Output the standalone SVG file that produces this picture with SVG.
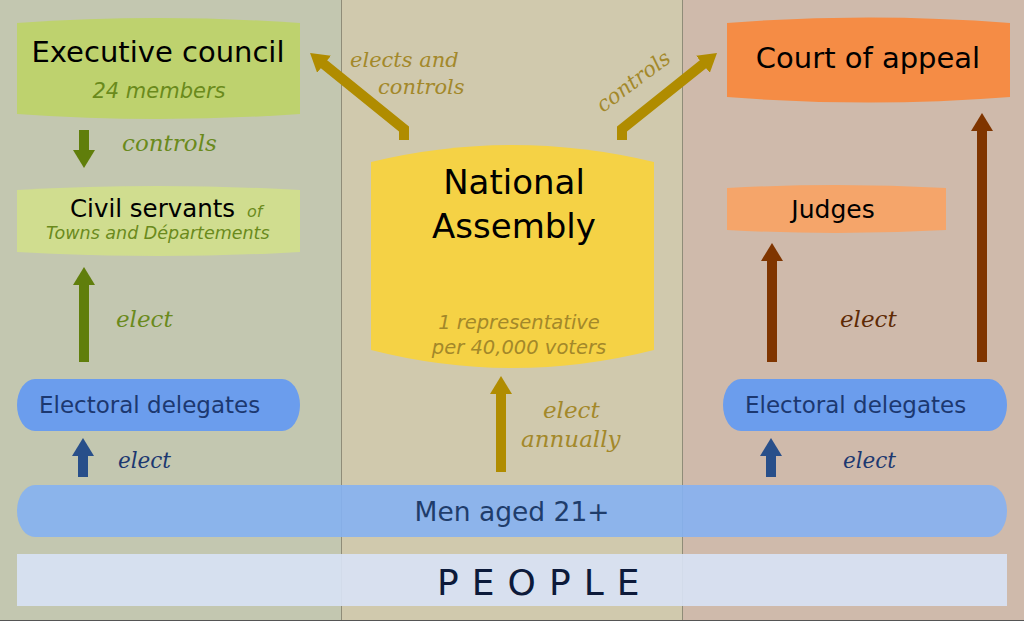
<svg xmlns="http://www.w3.org/2000/svg" width="1024" height="621" viewBox="0 0 1024 621">
<style>
.sans{font-family:"DejaVu Sans","Liberation Sans",sans-serif}
.ital{font-family:"DejaVu Sans","Liberation Sans",sans-serif;font-style:italic}
.lab{font-family:"DejaVu Serif","Liberation Serif",serif;font-style:italic}
.green{fill:#6a8a1c}
.gold{fill:#a3882a}
.brown{fill:#5e2a05}
.navy{fill:#1c3870}
.arrG{stroke:#607e0b;stroke-width:10;fill:none}
.arrY{stroke:#b08c00;stroke-width:10;fill:none}
.arrB{stroke:#7f3500;stroke-width:10;fill:none}
.arrN{stroke:#284f8a;stroke-width:10;fill:none}
</style>
<defs>
<marker id="mG" markerUnits="userSpaceOnUse" viewBox="0 0 18 22" markerWidth="18" markerHeight="22" refX="2" refY="11" orient="auto"><path d="M0,0 L18,11 L0,22 z" fill="#607e0b"/></marker>
<marker id="mY" markerUnits="userSpaceOnUse" viewBox="0 0 18 22" markerWidth="18" markerHeight="22" refX="2" refY="11" orient="auto"><path d="M0,0 L18,11 L0,22 z" fill="#b08c00"/></marker>
<marker id="mB" markerUnits="userSpaceOnUse" viewBox="0 0 18 22" markerWidth="18" markerHeight="22" refX="2" refY="11" orient="auto"><path d="M0,0 L18,11 L0,22 z" fill="#7f3500"/></marker>
<marker id="mN" markerUnits="userSpaceOnUse" viewBox="0 0 18 22" markerWidth="18" markerHeight="22" refX="2" refY="11" orient="auto"><path d="M0,0 L18,11 L0,22 z" fill="#284f8a"/></marker>
</defs>

<g id="background">
<rect x="0" y="0" width="342" height="621" fill="#c3c7b0"/>
<rect x="342" y="0" width="341" height="621" fill="#d0c9ad"/>
<rect x="683" y="0" width="341" height="621" fill="#cfbaab"/>
<line x1="341.5" y1="0" x2="341.5" y2="621" stroke="#8f8c78" stroke-width="1"/>
<line x1="682.5" y1="0" x2="682.5" y2="621" stroke="#8f8c78" stroke-width="1"/>
<line x1="0" y1="620.5" x2="1024" y2="620.5" stroke="#555" stroke-width="1"/>
</g>

<g id="executive-council">
<path d="M17,23 Q158,13 300,23 L300,114 Q158,124 17,114 Z" fill="#bed26e"/>
<text class="sans" x="158" y="62" font-size="29" text-anchor="middle" fill="#000">Executive council</text>
<text class="ital green" x="159" y="98" font-size="21" text-anchor="middle">24 members</text>
</g>

<g id="civil-servants">
<path d="M17,190 Q158,182 300,190 L300,252 Q158,260 17,252 Z" fill="#d0dd8f"/>
<text class="sans" x="70" y="217" font-size="24.5" fill="#000">Civil servants</text>
<text class="ital green" x="247" y="217" font-size="16">of</text>
<text class="ital green" x="46" y="239" font-size="17.5">Towns and Départements</text>
</g>

<g id="electoral-delegates-left">
<rect x="17" y="379" width="283" height="52" rx="18" ry="26" fill="#6b9ded"/>
<text class="sans navy" x="39" y="413" font-size="23">Electoral delegates</text>
</g>

<g id="national-assembly">
<path d="M371,162 Q512,128 654,162 L654,350 Q512,386 371,350 Z" fill="#f5d245"/>
<text class="sans" x="514" y="194" font-size="34" text-anchor="middle" fill="#000">National</text>
<text class="sans" x="514" y="238" font-size="34" text-anchor="middle" fill="#000">Assembly</text>
<text class="ital gold" x="519" y="329" font-size="19.5" text-anchor="middle">1 representative</text>
<text class="ital gold" x="519" y="354" font-size="19.5" text-anchor="middle">per 40,000 voters</text>
</g>

<g id="court-of-appeal">
<path d="M727,23 Q868,12 1010,23 L1010,97 Q868,108 727,97 Z" fill="#f58c45"/>
<text class="sans" x="868" y="68" font-size="29" text-anchor="middle" fill="#000">Court of appeal</text>
</g>

<g id="judges">
<path d="M727,188 Q836,182 946,188 L946,230 Q836,236 727,230 Z" fill="#f5a56a"/>
<text class="sans" x="833" y="218" font-size="25" text-anchor="middle" fill="#000">Judges</text>
</g>

<g id="electoral-delegates-right">
<rect x="723" y="379" width="284" height="52" rx="18" ry="26" fill="#6b9ded"/>
<text class="sans navy" x="745" y="413" font-size="23">Electoral delegates</text>
</g>

<g id="men-aged-21">
<rect x="17" y="485" width="990" height="52" rx="18" ry="26" fill="#85b1f2" fill-opacity="0.9"/>
<text class="sans" x="512" y="521" font-size="26.5" text-anchor="middle" fill="#1f3d6b">Men aged 21+</text>
</g>

<g id="people">
<rect x="17" y="554" width="990" height="52" fill="#d8e2f4" fill-opacity="0.92"/>
<text class="sans" x="437" y="595" font-size="36" letter-spacing="0.8" fill="#0d1a3a">P E O P L E</text>
</g>

<g id="connectors">
<path class="arrG" d="M84,130 L84,152" marker-end="url(#mG)"/>
<path class="arrG" d="M84,362 L84,283" marker-end="url(#mG)"/>
<path class="arrN" d="M83,477 L83,454" marker-end="url(#mN)"/>
<path class="arrY" d="M501,472 L501,392" marker-end="url(#mY)"/>
<path class="arrY" d="M404,140 L404,129 L322.5,63" stroke-linejoin="miter" marker-end="url(#mY)"/>
<path class="arrY" d="M622,140 L622,129 L704.5,63" stroke-linejoin="miter" marker-end="url(#mY)"/>
<path class="arrB" d="M772,362 L772,259" marker-end="url(#mB)"/>
<path class="arrB" d="M982,362 L982,129" marker-end="url(#mB)"/>
<path class="arrN" d="M771,477 L771,454" marker-end="url(#mN)"/>
</g>

<g id="labels">
<text class="lab green" x="122" y="151" font-size="23">controls</text>
<text class="lab green" x="116" y="327" font-size="23">elect</text>
<text class="lab navy" x="118" y="468" font-size="21.5">elect</text>
<text class="lab gold" x="350" y="67" font-size="21">elects and</text>
<text class="lab gold" x="378" y="94" font-size="21">controls</text>
<text class="lab gold" x="603" y="113" font-size="21" transform="rotate(-37 603 113)">controls</text>
<text class="lab gold" x="543" y="418" font-size="23">elect</text>
<text class="lab gold" x="521" y="447" font-size="23">annually</text>
<text class="lab brown" x="840" y="327" font-size="23">elect</text>
<text class="lab navy" x="843" y="468" font-size="21.5">elect</text>
</g>
</svg>
